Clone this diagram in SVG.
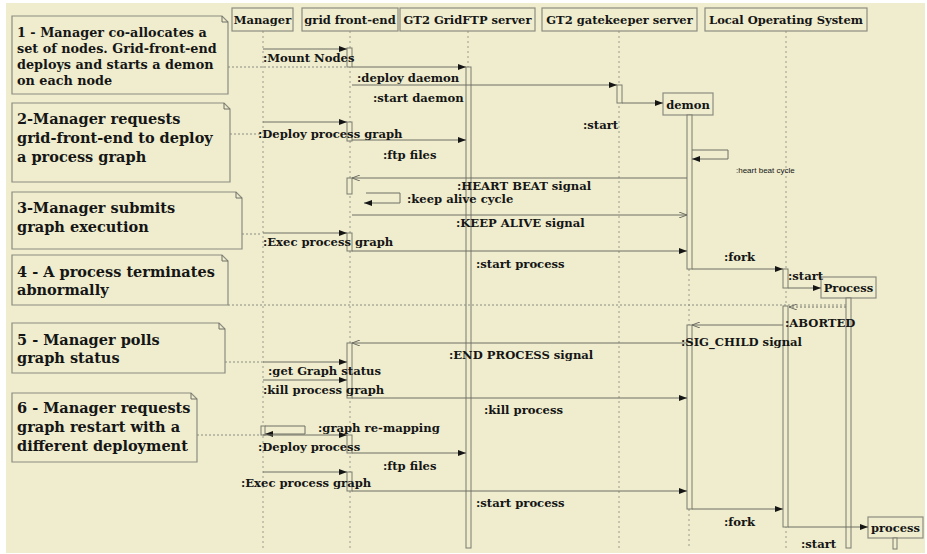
<svg xmlns="http://www.w3.org/2000/svg" width="927" height="554" viewBox="0 0 927 554">
<defs>
<style>
.bg{fill:#EFEDCE}
.box{fill:#EFEDCE;stroke:#8c8c80;stroke-width:1.2}
.note{fill:#EFEDCE;stroke:#8c8c80;stroke-width:1.2}
.ll{stroke:#9a9a8c;stroke-width:1;stroke-dasharray:2,3;fill:none}
.nc{stroke:#8c8c80;stroke-width:1;stroke-dasharray:2,2;fill:none}
.act{fill:#EFEDCE;stroke:#7a7a6e;stroke-width:1}
.msg{stroke:#6e6e64;stroke-width:1;fill:none}
.ret{stroke:#6e6e64;stroke-width:1;fill:none;stroke-dasharray:2,2}
text{font-family:"DejaVu Serif","Liberation Serif",serif;font-weight:bold;fill:#151515}
.hd{font-size:11.5px}
.n1{font-size:12.8px}
.nt{font-size:14.5px}
.lb{font-size:11.6px}
.sm{font-family:"Liberation Sans",Arial,sans-serif;font-weight:normal;font-size:8px}
</style>
<marker id="fa" viewBox="0 0 8 6" refX="8" refY="3" markerWidth="8" markerHeight="6" markerUnits="userSpaceOnUse" orient="auto"><path d="M0,0 L8,3 L0,6 Z" fill="#151515"/></marker>
<marker id="oa" viewBox="0 0 8 6" refX="8" refY="3" markerWidth="8" markerHeight="6" markerUnits="userSpaceOnUse" orient="auto"><path d="M0,0 L8,3 L0,6" fill="none" stroke="#6e6e64" stroke-width="1"/></marker>
</defs>
<rect x="0" y="0" width="927" height="554" fill="#ffffff"/>
<rect class="bg" x="6" y="3" width="919" height="550"/>

<g id="lifelines">
<line class="ll" x1="263" y1="31" x2="263" y2="548"/>
<line class="ll" x1="350" y1="31" x2="350" y2="548"/>
<line class="ll" x1="468" y1="31" x2="468" y2="67"/>
<line class="ll" x1="619" y1="31" x2="619" y2="548"/>
<line class="ll" x1="786" y1="31" x2="786" y2="548"/>
<line class="ll" x1="689" y1="269" x2="689" y2="325"/>
<line class="ll" x1="689" y1="509" x2="689" y2="548"/>
</g>

<g id="manager"><rect class="box" x="232" y="8" width="61" height="23"/><text class="hd" x="262.5" y="24" text-anchor="middle">Manager</text><rect class="act" x="261" y="426" width="4" height="9"/></g>
<g id="grid-front-end"><rect class="box" x="302" y="8" width="96" height="23"/><text class="hd" x="350" y="24" text-anchor="middle">grid front-end</text>
<rect class="act" x="347" y="48" width="5" height="19"/>
<rect class="act" x="347" y="122" width="5" height="19"/>
<rect class="act" x="347" y="178" width="5" height="16"/>
<rect class="act" x="347" y="233" width="5" height="18"/>
<rect class="act" x="347" y="343" width="5" height="55"/>
<rect class="act" x="347" y="435" width="5" height="18"/>
<rect class="act" x="347" y="472" width="5" height="19"/>
</g>
<g id="gridftp"><rect class="box" x="400" y="8" width="135" height="23"/><text class="hd" x="467.5" y="24" text-anchor="middle">GT2 GridFTP server</text><rect class="act" x="466" y="67" width="5" height="481"/></g>
<g id="gatekeeper"><rect class="box" x="542" y="8" width="155" height="23"/><text class="hd" x="619.5" y="24" text-anchor="middle">GT2 gatekeeper server</text><rect class="act" x="617" y="85" width="5" height="18"/></g>
<g id="los"><rect class="box" x="705" y="8" width="162" height="23"/><text class="hd" x="786" y="24" text-anchor="middle">Local Operating System</text>
<rect class="act" x="783" y="269" width="5" height="19"/>
<rect class="act" x="783" y="306" width="5" height="221"/>
</g>
<g id="demon"><rect class="box" x="663" y="93" width="50" height="22"/><text class="hd" x="688" y="109" text-anchor="middle">demon</text>
<rect class="act" x="687" y="115" width="5" height="154"/>
<rect class="act" x="687" y="325" width="5" height="184"/>
</g>
<g id="Process"><rect class="box" x="821" y="277" width="55" height="21"/><text class="hd" x="848.5" y="292" text-anchor="middle">Process</text><rect class="act" x="846" y="298" width="5" height="250"/></g>
<g id="process2"><rect class="box" x="868" y="517" width="55" height="21"/><text class="hd" x="895.5" y="532" text-anchor="middle">process</text><rect class="act" x="893" y="538" width="4" height="11"/></g>

<g id="note1"><path class="note" d="M12,16 H222 L228,22 V94 H12 Z"/><path class="msg" d="M222,16 V22 H228" stroke="#8c8c80"/>
<text class="n1" x="17" y="37">1 - Manager co-allocates a</text><text class="n1" x="17" y="53">set of nodes. Grid-front-end</text><text class="n1" x="17" y="69">deploys and starts a demon</text><text class="n1" x="17" y="85">on each node</text></g>
<g id="note2"><path class="note" d="M12,103 H224 L230,109 V182 H12 Z"/><path class="msg" d="M224,103 V109 H230" stroke="#8c8c80"/>
<text class="nt" x="17" y="124">2-Manager requests</text><text class="nt" x="17" y="143">grid-front-end to deploy</text><text class="nt" x="17" y="162">a process graph</text></g>
<g id="note3"><path class="note" d="M12,192 H236 L242,198 V249 H12 Z"/><path class="msg" d="M236,192 V198 H242" stroke="#8c8c80"/>
<text class="nt" x="17" y="213">3-Manager submits</text><text class="nt" x="17" y="232">graph execution</text></g>
<g id="note4"><path class="note" d="M12,255 H222 L228,261 V305 H12 Z"/><path class="msg" d="M222,255 V261 H228" stroke="#8c8c80"/>
<text class="nt" x="17" y="277">4 - A process terminates</text><text class="nt" x="17" y="295">abnormally</text></g>
<g id="note5"><path class="note" d="M12,323 H219 L225,329 V373 H12 Z"/><path class="msg" d="M219,323 V329 H225" stroke="#8c8c80"/>
<text class="nt" x="17" y="345">5 - Manager polls</text><text class="nt" x="17" y="363">graph status</text></g>
<g id="note6"><path class="note" d="M12,393 H191 L197,399 V462 H12 Z"/><path class="msg" d="M191,393 V399 H197" stroke="#8c8c80"/>
<text class="nt" x="17" y="413">6 - Manager requests</text><text class="nt" x="17" y="432">graph restart with a</text><text class="nt" x="17" y="451">different deployment</text></g>

<g id="connectors">
<line class="nc" x1="228" y1="67" x2="347" y2="67"/>
<line class="nc" x1="230" y1="134" x2="262" y2="134"/>
<line class="nc" x1="242" y1="234" x2="262" y2="234"/>
<line class="nc" x1="228" y1="305" x2="846" y2="305"/>
<line class="nc" x1="225" y1="362" x2="262" y2="362"/>
<line class="nc" x1="197" y1="435" x2="261" y2="435"/>

<line class="msg" x1="263" y1="49" x2="347" y2="49" marker-end="url(#fa)"/>
<line class="msg" x1="352" y1="67" x2="466" y2="67" marker-end="url(#fa)"/>
<line class="msg" x1="352" y1="85" x2="617" y2="85" marker-end="url(#fa)"/>
<line class="msg" x1="622" y1="103" x2="663" y2="103" marker-end="url(#fa)"/>
<line class="msg" x1="263" y1="122" x2="347" y2="122" marker-end="url(#fa)"/>
<line class="msg" x1="352" y1="140" x2="466" y2="140" marker-end="url(#fa)"/>
<path class="msg" d="M692,150 H728 V159 H692" marker-end="url(#fa)"/>
<line class="msg" x1="687" y1="178" x2="352" y2="178" marker-end="url(#oa)"/>
<path class="msg" d="M366,193 H400 V203 H364" marker-end="url(#fa)"/>
<line class="msg" x1="352" y1="215" x2="687" y2="215" marker-end="url(#oa)"/>
<line class="msg" x1="263" y1="233" x2="347" y2="233" marker-end="url(#fa)"/>
<line class="msg" x1="352" y1="251" x2="687" y2="251" marker-end="url(#fa)"/>
<line class="msg" x1="692" y1="269" x2="783" y2="269" marker-end="url(#fa)"/>
<line class="msg" x1="788" y1="288" x2="821" y2="288" marker-end="url(#fa)"/>
<line class="ret" x1="846" y1="307" x2="789" y2="307" marker-end="url(#oa)"/>
<line class="msg" x1="783" y1="325" x2="692" y2="325" marker-end="url(#oa)"/>
<line class="msg" x1="687" y1="343" x2="352" y2="343" marker-end="url(#oa)"/>
<line class="msg" x1="263" y1="362" x2="347" y2="362" marker-end="url(#fa)"/>
<line class="msg" x1="263" y1="380" x2="347" y2="380" marker-end="url(#fa)"/>
<line class="msg" x1="352" y1="398" x2="687" y2="398" marker-end="url(#fa)"/>
<path class="msg" d="M265,426 H305 V434 H265" marker-end="url(#fa)"/>
<line class="msg" x1="263" y1="435" x2="347" y2="435" marker-end="url(#fa)"/>
<line class="msg" x1="352" y1="453" x2="466" y2="453" marker-end="url(#fa)"/>
<line class="msg" x1="263" y1="472" x2="347" y2="472" marker-end="url(#fa)"/>
<line class="msg" x1="352" y1="491" x2="687" y2="491" marker-end="url(#fa)"/>
<line class="msg" x1="692" y1="509" x2="783" y2="509" marker-end="url(#fa)"/>
<line class="msg" x1="788" y1="527" x2="868" y2="527" marker-end="url(#fa)"/>
</g>

<g id="labels">
<text class="lb" x="263" y="62">:Mount Nodes</text>
<text class="lb" x="357" y="82">:deploy daemon</text>
<text class="lb" x="373" y="102">:start daemon</text>
<text class="lb" x="583" y="129">:start</text>
<text class="lb" x="258" y="138">:Deploy process graph</text>
<text class="lb" x="383" y="159">:ftp files</text>
<text class="sm" x="736" y="173">:heart beat cycle</text>
<text class="lb" x="457" y="190">:HEART BEAT signal</text>
<text class="lb" x="407" y="203">:keep alive cycle</text>
<text class="lb" x="456" y="227">:KEEP ALIVE signal</text>
<text class="lb" x="263" y="246">:Exec process graph</text>
<text class="lb" x="724" y="261">:fork</text>
<text class="lb" x="476" y="268">:start process</text>
<text class="lb" x="788" y="280">:start</text>
<text class="lb" x="785" y="327">:ABORTED</text>
<text class="lb" x="681" y="346">:SIG_CHILD signal</text>
<text class="lb" x="449" y="359">:END PROCESS signal</text>
<text class="lb" x="268" y="375">:get Graph status</text>
<text class="lb" x="263" y="394">:kill process graph</text>
<text class="lb" x="484" y="414">:kill process</text>
<text class="lb" x="318" y="432">:graph re-mapping</text>
<text class="lb" x="258" y="451">:Deploy process</text>
<text class="lb" x="383" y="470">:ftp files</text>
<text class="lb" x="241" y="487">:Exec process graph</text>
<text class="lb" x="476" y="507">:start process</text>
<text class="lb" x="724" y="526">:fork</text>
<text class="lb" x="801" y="548">:start</text>
</g>
</svg>
